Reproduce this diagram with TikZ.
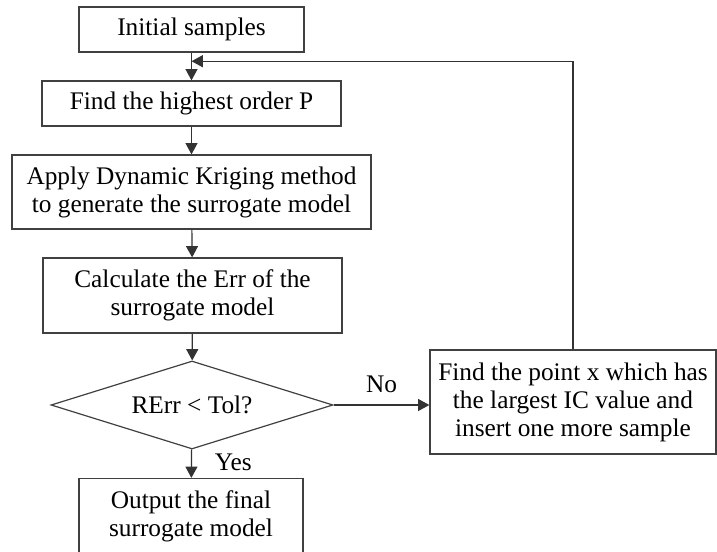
\documentclass[tikz,border=0pt]{standalone}
\usepackage{fontspec}
\setmainfont{Liberation Serif}
\usetikzlibrary{arrows.meta,shapes.geometric,calc}
\begin{document}
\begin{tikzpicture}[x=0.75pt,y=-0.75pt,
  line width=0.9pt,
  every node/.style={font=\fontsize{19}{21}\selectfont, text=black},
  box/.style={draw=black!75, rectangle, inner sep=0pt, align=center},
  decision/.style={draw=black!75, diamond, aspect=3.2, inner sep=0pt,
    minimum width=211.5pt, minimum height=66pt},
  flow/.style={draw=black!80, -{Triangle[length=8.5pt,width=9pt]}},
  lbl/.style={inner sep=0pt}]
  \useasboundingbox (0,0) rectangle (717,552);
  \clip (0,0) rectangle (717,552);

  % main column
  \node[box, minimum width=168.75pt, minimum height=33.75pt] (init) at (191.5,29.5) {Initial samples};
  \node[box, minimum width=224.25pt, minimum height=33.75pt] (order) at (191.5,103.5) {Find the highest order P};
  \node[box, minimum width=269.25pt, minimum height=55.5pt] (kriging) at (191.5,192) {Apply Dynamic Kriging method\\to generate the surrogate model};
  \node[box, minimum width=224.25pt, minimum height=56.25pt] (err) at (192.5,295.5) {Calculate the Err of the\\surrogate model};
  \node[decision] (check) at (192,405) {RErr < Tol?};
  \node[box, minimum width=168pt, minimum height=57pt] (output) at (191,516.5) {Output the final\\surrogate model};

  % refinement branch
  \node[box, minimum width=214.5pt, minimum height=78pt] (refine) at (573,402) {Find the point x which has\\the largest IC value and\\insert one more sample};

  % junction where the loop re-enters the column
  \coordinate (join) at ($(init.south)!0.31!(order.north)$);

  \draw[flow] (init) -- (order);
  \draw[flow] (order) -- (kriging);
  \draw[flow] (kriging) -- (err);
  \draw[flow] (err) -- (check);
  \draw[flow] (check) -- node[lbl, right=17pt, pos=0.45] {Yes} (output);
  \draw[flow] (check.east) -- node[lbl, above=9pt, pos=0.5] {No} (check.east -| refine.west);
  \draw[flow] (refine.north) |- (join);
\end{tikzpicture}
\end{document}
